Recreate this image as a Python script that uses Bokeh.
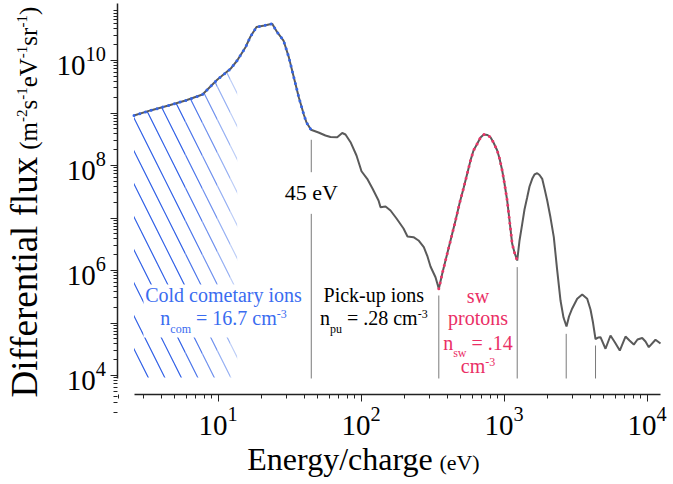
import numpy as np
from bokeh.plotting import figure
from bokeh.models import Range1d, FixedTicker, LogTickFormatter, Label, BoxAnnotation
from bokeh.embed import file_html
from bokeh.resources import INLINE

# ---------------- data ----------------
cold_energy = [2.586, 3.37, 4.51, 5.93, 7.79, 9.87, 12.23, 13.62, 15.57, 16.88, 18.59,
               21.14, 23.93, 25.94, 28.71, 31.27, 33.89, 36.73, 39.81, 41.58, 44.7]
cold_flux = [8.96e8, 1.12e9, 1.39e9, 1.73e9, 2.25e9, 4.29e9, 6.95e9, 1.0e10, 1.79e10, 2.86e10,
             4.35e10, 4.64e10, 5.0e10, 3.46e10, 2.40e10, 1.16e10, 4.81e9, 2.0e9, 9.36e8,
             6.59e8, 4.79e8]

pickup_energy = [50.45, 56.4, 61.2, 68.2, 73.9, 77.9, 84.5, 93.0, 100.8, 110.5, 120.3, 132.6,
                 136.9, 148.4, 160.8, 177.2, 198.3, 211.4, 232.9, 252.5, 274.9, 291.7, 306.2,
                 331.9, 350.1]
pickup_flux = [4.25e8, 3.73e8, 3.49e8, 3.46e8, 4.16e8, 3.89e8, 2.78e8, 1.55e8, 7.77e7, 5.58e7,
               3.65e7, 2.15e7, 1.61e7, 1.66e7, 1.39e7, 9.78e6, 6.31e6, 4.44e6, 4.31e6, 3.73e6,
               2.78e6, 1.85e6, 1.19e6, 7.45e5, 4.48e5]

sw_energy = [350.1, 371.5, 400.6, 429.5, 458.1, 488.5, 523.4, 555.6, 583.1, 611.9, 649.5, 685,
             722.3, 766.6, 804.6, 844.4, 896.6, 930.5, 971.4, 1008, 1053, 1093, 1141, 1184, 1237]
sw_flux = [4.48e5, 9.16e5, 2.08e6, 4.44e6, 8.96e6, 1.89e7, 3.86e7, 7.36e7, 1.25e8, 1.93e8,
           2.59e8, 3.41e8, 3.89e8, 3.81e8, 3.46e8, 2.74e8, 1.93e8, 1.36e8, 8.03e7, 4.54e7,
           2.15e7, 8.96e6, 3.23e6, 2.20e6, 1.55e6]

tail_energy = [1284, 1341, 1391, 1453, 1508, 1575, 1634, 1707, 1772, 1850, 1920, 2005, 2114,
               2230, 2348, 2484, 2607, 2736, 2848, 2999, 3250, 3523, 3817, 4026, 4191, 4364,
               4580, 4729, 5126, 5556, 5972, 6452, 7073, 7544, 8084, 8582, 9256, 9761, 10295,
               11465, 12428]
tail_flux = [3.73e6, 7.76e6, 1.45e7, 2.49e7, 3.98e7, 5.58e7, 6.74e7, 7.13e7, 6.59e7, 5.58e7,
             3.65e7, 2.15e7, 1.02e7, 4.31e6, 1.09e6, 2.68e5, 1.27e5, 8.58e4, 1.33e5, 1.89e5,
             2.89e5, 3.49e5, 2.89e5, 1.81e5, 1.02e5, 4.96e4, 5.30e4, 5.37e4, 3.23e4, 5.78e4,
             4.25e4, 2.99e4, 5.53e4, 4.64e4, 3.89e4, 4.85e4, 5.18e4, 4.44e4, 3.46e4, 4.79e4,
             4.07e4]

# vertical separator lines (energy, lower end, upper end)
marker_energy = [44.9, 44.9, 350.0, 1237.0, 2723.0, 4365.0]
marker_low = [7.45e7, 8.77e3, 8.77e3, 8.77e3, 8.77e3, 8.77e3]
marker_high = [3.09e8, 1.2e7, 3.34e5, 1.16e6, 6.22e4, 3.73e4]

# hatched cold-ion region: index ranges of cold points and fading colours
hatch_index_ranges = [(0, 3), (3, 4), (4, 5), (5, 6), (6, 7)]
hatch_colors = ["#2f5fe6", "#4a74ea", "#6f90ee", "#95aff3", "#bccdf7"]
hatch_floor = 9.2e3

x_ticks = [10, 100, 1000, 10000]
y_ticks = [1e4, 1e5, 1e6, 1e7, 1e8, 1e9, 1e10]
y_hidden = [1e5, 1e7, 1e9]

# ---------------- figure ----------------
W, H = 673, 484
XMIN, XMAX = 0.30131, 15321.0
YMIN, YMAX = 83.93, 1.3895e11
X_AXIS_AT = 4290.0        # flux level where the energy axis is drawn
Y_AXIS_AT = 1.992         # energy where the flux axis is drawn
PPD = H / np.log10(YMAX / YMIN)   # pixels per decade on y
BASE_FIX = 0.36           # baseline correction (fraction of font size)

FONT = "Liberation Serif"
BLUE = "#3a6cf0"
PINK = "#ea2f66"
GRAY = "#5a5a5a"
NB = "\u00a0"

p = figure(width=W, height=H, x_axis_type="log", y_axis_type="log",
           x_range=Range1d(XMIN, XMAX), y_range=Range1d(YMIN, YMAX),
           output_backend="svg", toolbar_location=None, title=None,
           min_border=0, min_border_left=0, min_border_right=0,
           min_border_top=0, min_border_bottom=0)
p.outline_line_color = None
p.grid.visible = False
p.background_fill_color = "white"
p.border_fill_color = "white"

for ax in (p.xaxis[0], p.yaxis[0]):
    ax.axis_line_color = "#222222"
    ax.axis_line_width = 1.5
    ax.major_tick_line_color = "#222222"
    ax.minor_tick_line_color = "#222222"
    ax.major_tick_in = 0
    ax.major_tick_out = 7
    ax.minor_tick_in = 0
    ax.minor_tick_out = 4
    ax.major_label_text_font = FONT
    ax.major_label_text_font_size = "29px"
    ax.major_label_text_color = "black"
    ax.major_label_standoff = 5
    ax.formatter = LogTickFormatter()

p.xaxis[0].fixed_location = X_AXIS_AT
p.yaxis[0].fixed_location = Y_AXIS_AT
p.xaxis[0].ticker = FixedTicker(ticks=x_ticks,
                                minor_ticks=[k * 10.0 ** d for d in range(0, 5) for k in range(2, 10)])
p.xaxis[0].bounds = (cold_energy[0], tail_energy[-1])
p.yaxis[0].ticker = FixedTicker(ticks=y_ticks,
                                minor_ticks=[k * 10.0 ** d for d in range(3, 11) for k in range(2, 10)])
p.yaxis[0].bounds = (8.77e3, 1.218e11)
overrides = {}
for t in y_hidden:
    overrides[float(t)] = ""
    overrides[str(int(t))] = ""
p.yaxis[0].major_label_overrides = overrides

# hatch under the cold-ion part
for (i0, i1), col in zip(hatch_index_ranges, hatch_colors):
    xs = cold_energy[i0:i1 + 1]
    ys = cold_flux[i0:i1 + 1]
    p.varea(x=xs, y1=[hatch_floor] * len(xs), y2=ys, fill_alpha=0,
            hatch_pattern="\\", hatch_color=col, hatch_weight=1.2, hatch_scale=33)

# separator lines
p.segment(x0=marker_energy, y0=marker_low, x1=marker_energy, y1=marker_high,
          line_color="#7a7a7a", line_width=1)

# main spectrum
all_energy = cold_energy + pickup_energy + sw_energy[1:] + tail_energy
all_flux = cold_flux + pickup_flux + sw_flux[1:] + tail_flux
p.line(all_energy, all_flux, line_color=GRAY, line_width=2)
p.line(cold_energy, cold_flux, line_color="#3566e8", line_width=3, line_dash="0 6",
       line_cap="round")
p.line(sw_energy, sw_flux, line_color="#ee3468", line_width=3, line_dash="0 6",
       line_cap="round")

# ---------------- texts ----------------
TNR = {' ': 250, NB: 250, '(': 333, ')': 333, '-': 333, '.': 250, '/': 278, '=': 564,
       'C': 667, 'D': 722, 'E': 611, 'P': 556, 'V': 722,
       'a': 444, 'c': 444, 'd': 500, 'e': 444, 'f': 333, 'g': 500, 'h': 500, 'i': 278,
       'k': 500, 'l': 278, 'm': 778, 'n': 500, 'o': 500, 'p': 500, 'r': 333, 's': 389,
       't': 278, 'u': 500, 'w': 722, 'x': 500, 'y': 500}


def tw(text, size):
    return sum(TNR.get(c, 500) for c in text) / 1000.0 * size


def rich_data(parts, x, y, color):
    widths = [tw(t, s) for t, s, _ in parts]
    off = -sum(widths) / 2.0
    for (t, s, dy), w in zip(parts, widths):
        up = dy + BASE_FIX * s
        p.add_layout(Label(x=x, y=y * 10 ** (up / PPD), x_offset=off, text=t,
                           text_font=FONT, text_font_size=f"{s}px", text_color=color,
                           text_align="left", text_baseline="alphabetic"))
        off += w


def rich_screen(parts, sx, sy, color="black", vertical=False, center=True):
    widths = [tw(t, s) for t, s, _ in parts]
    along = -sum(widths) / 2.0 if center else 0.0
    for (t, s, dy), w in zip(parts, widths):
        up = dy + BASE_FIX * s
        if vertical:
            lab = Label(x=sx - up, y=sy + along, angle=np.pi / 2)
        else:
            lab = Label(x=sx + along, y=sy + up)
        lab.x_units = "screen"
        lab.y_units = "screen"
        lab.text = t
        lab.text_font = FONT
        lab.text_font_size = f"{s}px"
        lab.text_color = color
        lab.text_align = "left"
        lab.text_baseline = "alphabetic"
        p.add_layout(lab)
        along += w


# white patch behind the cold-ion caption
p.add_layout(BoxAnnotation(left=3.013, right=14.36, bottom=5.30e4, top=5.41e5,
                           fill_color="white", fill_alpha=1, line_color=None))

rich_data([("45 eV", 22, 0)], 44.9, 2.15e7, "black")

rich_data([("Cold cometary ions", 20, 0)], 10.93, 2.457e5, BLUE)
rich_data([("n", 20, 0), ("com", 12, -8), (NB + "= 16.7 cm", 20, 0), ("-3", 12, 7)],
          10.93, 8.96e4, BLUE)

rich_data([("Pick-up ions", 20, 0)], 122.9, 2.457e5, "black")
rich_data([("n", 20, 0), ("pu", 12, -8), (NB + "= .28 cm", 20, 0), ("-3", 12, 7)],
          122.9, 8.96e4, "black")

rich_data([("sw", 20, 0)], 657.7, 2.43e5, PINK)
rich_data([("protons", 20, 0)], 657.7, 9.0e4, PINK)
rich_data([("n", 20, 0), ("sw", 12, -7), (NB + "= .14", 20, 0)], 657.7, 2.99e4, PINK)
rich_data([("cm", 20, 0), ("-3", 12, 7)], 657.7, 1.11e4, PINK)

# axis titles (screen units, frame == whole canvas)
rich_screen([("Energy/charge", 32, 0), (NB + "(eV)", 22, 0)], 363, 14)
rich_screen([("Differential flux", 37, 0), (NB + "(m", 25, 0), ("-2", 15, 10), ("s", 25, 0),
             ("-1", 15, 10), ("eV", 25, 0), ("-1", 15, 10), ("sr", 25, 0), ("-1", 15, 10),
             (")", 25, 0)], 37, 87, vertical=True, center=False)

open("out.html", "w").write(file_html(p, INLINE))
